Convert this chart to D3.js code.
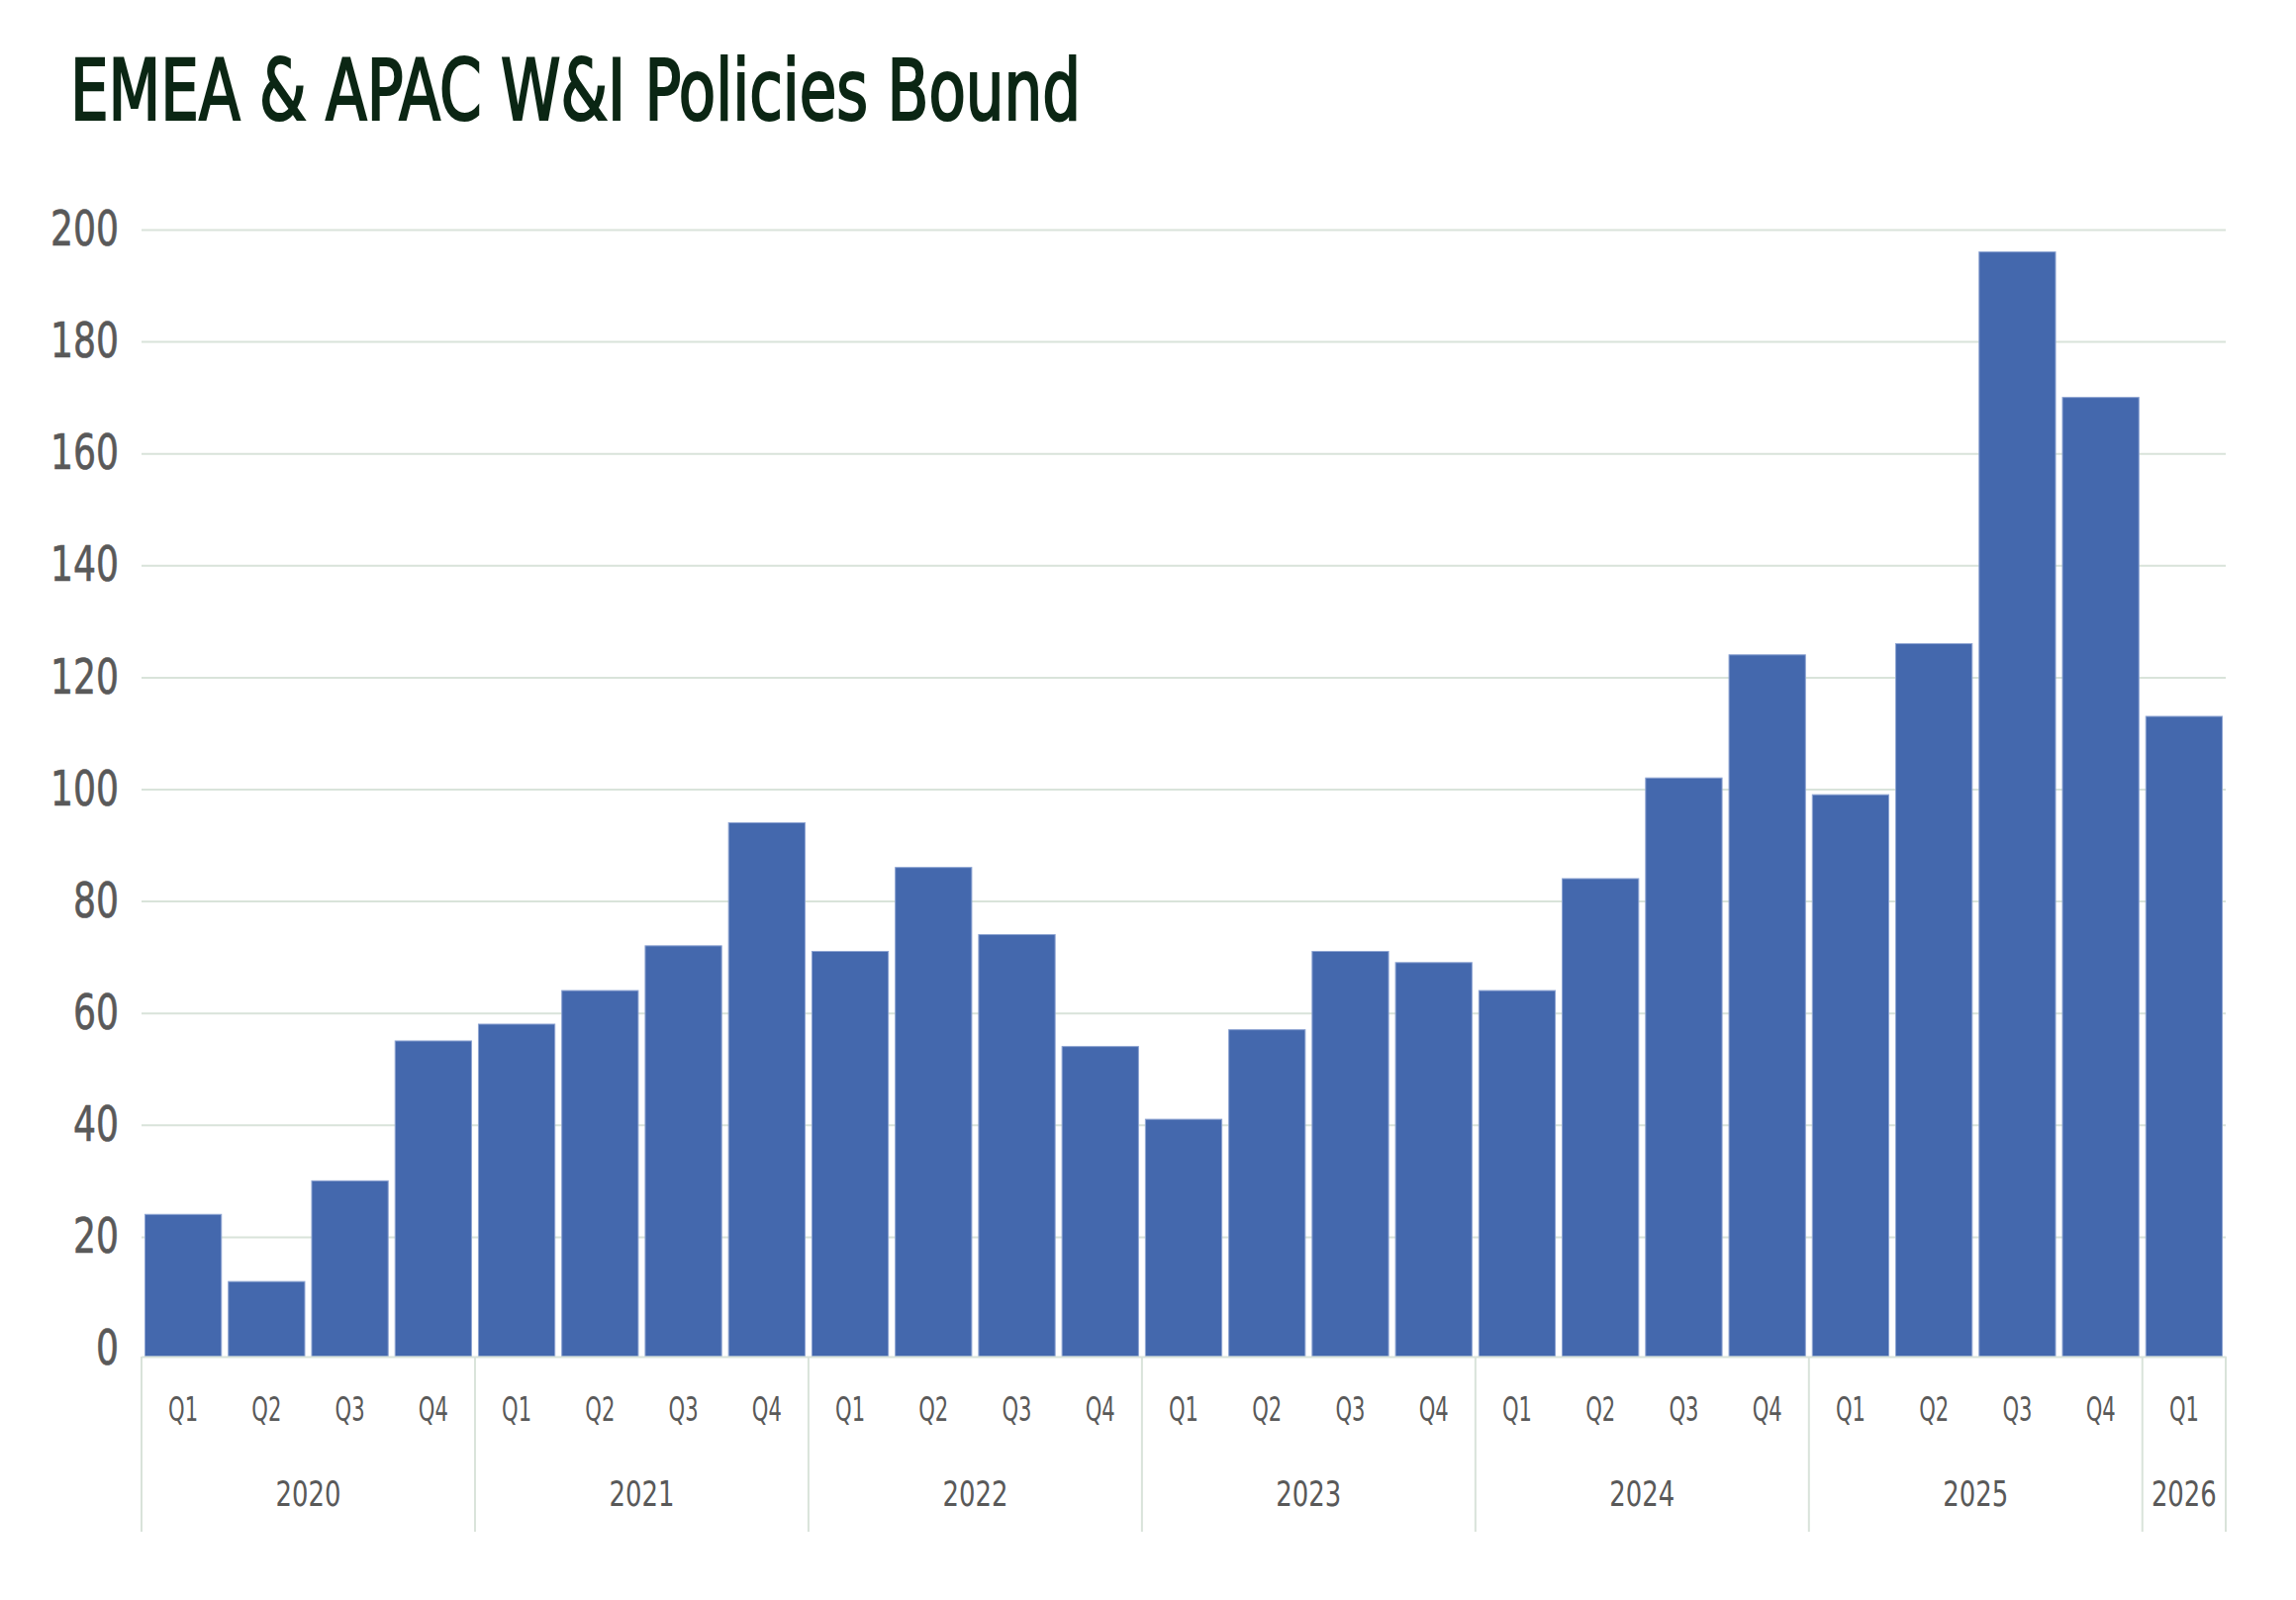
<!DOCTYPE html>
<html>
<head>
<meta charset="utf-8">
<script src="https://cdn.jsdelivr.net/npm/d3@7"></script>
<style>
  html, body { margin: 0; padding: 0; background: #ffffff; }
  svg { display: block; }
</style>
</head>
<body>
<div id="chart"></div>
<script>
// chart data
const categories = [
  "2020 Q1", "2020 Q2", "2020 Q3", "2020 Q4",
  "2021 Q1", "2021 Q2", "2021 Q3", "2021 Q4",
  "2022 Q1", "2022 Q2", "2022 Q3", "2022 Q4",
  "2023 Q1", "2023 Q2", "2023 Q3", "2023 Q4",
  "2024 Q1", "2024 Q2", "2024 Q3", "2024 Q4",
  "2025 Q1", "2025 Q2", "2025 Q3", "2025 Q4",
  "2026 Q1"
];
const quarterLabels = [
  "Q1", "Q2", "Q3", "Q4", "Q1", "Q2", "Q3", "Q4", "Q1", "Q2", "Q3", "Q4",
  "Q1", "Q2", "Q3", "Q4", "Q1", "Q2", "Q3", "Q4", "Q1", "Q2", "Q3", "Q4",
  "Q1"
];
const policiesBound = [
  24, 12, 30, 55,
  58, 64, 72, 94,
  71, 86, 74, 54,
  41, 57, 71, 69,
  64, 84, 102, 124,
  99, 126, 196, 170,
  113
];
const yearLabels = ["2020", "2021", "2022", "2023", "2024", "2025", "2026"];
const yearFirstCategory = ["2020 Q1", "2021 Q1", "2022 Q1", "2023 Q1", "2024 Q1", "2025 Q1", "2026 Q1"];
const yTicks = [0, 20, 40, 60, 80, 100, 120, 140, 160, 180, 200];

const width = 2320;
const height = 1617;
const plot = { left: 143, right: 2249, top: 232, bottom: 1363 };
const axisY = 1371;   // category axis line sits a little under the zero gridline

// no narrow font installed, so the condensed look comes from textLength
const font = "'DejaVu Sans Condensed', 'DejaVu Sans', sans-serif";
const labelColor = "#595959";
const gridColor = "#d9e3da";

const svg = d3.select("#chart")
  .append("svg")
  .attr("width", width)
  .attr("height", height)
  .style("background", "#ffffff");

// Title
svg.append("text")
  .attr("x", 71)
  .attr("y", 121)
  .attr("font-family", font)
  .attr("font-size", 85)
  .attr("fill", "#0b2614")
  .attr("stroke", "#0b2614")
  .attr("stroke-width", 2.2)
  .attr("textLength", 1021)
  .attr("lengthAdjust", "spacingAndGlyphs")
  .text("EMEA & APAC W&I Policies Bound");

// Scales
const x = d3.scaleBand()
  .domain(categories)
  .range([plot.left, plot.right])
  .paddingInner(0.083)
  .paddingOuter(0.0415);

const y = d3.scaleLinear()
  .domain([0, 200])
  .range([plot.bottom, plot.top]);

// Y axis with gridlines
const yAxis = svg.append("g")
  .attr("transform", `translate(${plot.left},0)`)
  .call(d3.axisLeft(y)
    .tickValues(yTicks)
    .tickSize(-(plot.right - plot.left))
    .tickPadding(23));

yAxis.select(".domain").remove();
yAxis.selectAll(".tick line")
  .attr("stroke", gridColor)
  .attr("stroke-width", 2)
  .attr("opacity", d => d === 0 ? 0 : 1);
yAxis.selectAll(".tick text")
  .attr("font-family", font)
  .attr("font-size", 49)
  .attr("fill", labelColor)
  .attr("stroke", labelColor)
  .attr("stroke-width", 0.6)
  .attr("textLength", d => String(d).length * 23)
  .attr("lengthAdjust", "spacingAndGlyphs");

// Bars
svg.append("g")
  .selectAll("rect")
  .data(policiesBound)
  .enter()
  .append("rect")
  .attr("x", (d, i) => x(categories[i]))
  .attr("y", d => y(d))
  .attr("width", x.bandwidth())
  .attr("height", d => axisY - y(d))
  .attr("fill", "#4468ad")
  .attr("stroke", "#8ea4d2")
  .attr("stroke-width", 1);

// Category axis (quarters)
const xAxis = svg.append("g")
  .attr("transform", `translate(0,${axisY})`)
  .call(d3.axisBottom(x)
    .tickSize(0)
    .tickFormat((d, i) => quarterLabels[i]));

xAxis.select(".domain")
  .attr("stroke", gridColor)
  .attr("stroke-width", 2);
xAxis.selectAll(".tick text")
  .attr("y", 65)
  .attr("dy", null)
  .attr("font-family", font)
  .attr("font-size", 34)
  .attr("fill", labelColor)
  .attr("textLength", 30)
  .attr("lengthAdjust", "spacingAndGlyphs");

// Year groups: separators and labels
const halfGap = (x.step() - x.bandwidth()) / 2;
const yearStarts = yearFirstCategory.map(c => x(c) - halfGap);
const yearEnds = yearStarts.slice(1).concat([plot.right]);
const separators = [plot.left].concat(yearEnds);

svg.append("g")
  .selectAll("line")
  .data(separators)
  .enter()
  .append("line")
  .attr("x1", d => d)
  .attr("x2", d => d)
  .attr("y1", axisY)
  .attr("y2", 1548)
  .attr("stroke", gridColor)
  .attr("stroke-width", 2);

svg.append("g")
  .selectAll("text")
  .data(yearLabels)
  .enter()
  .append("text")
  .attr("x", (d, i) => (yearStarts[i] + yearEnds[i]) / 2)
  .attr("y", 1522)
  .attr("text-anchor", "middle")
  .attr("font-family", font)
  .attr("font-size", 35)
  .attr("fill", labelColor)
  .attr("textLength", 66)
  .attr("lengthAdjust", "spacingAndGlyphs")
  .text(d => d);
</script>
</body>
</html>
